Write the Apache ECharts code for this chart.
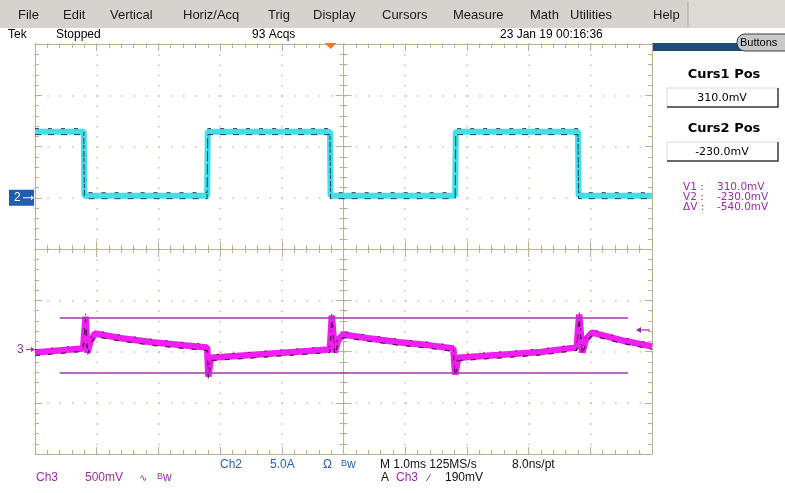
<!DOCTYPE html>
<html>
<head>
<meta charset="utf-8">
<script src="https://cdn.jsdelivr.net/npm/echarts@6/dist/echarts.min.js"></script>
<style>
html,body{margin:0;padding:0;background:#fff;}
#scope{width:785px;height:493px;}
</style>
</head>
<body>
<div id="scope"></div>
<script>
// ---- Acquired waveforms (time in ms) ----
// Channel 2: current probe, amps
const ch2Time = [0, 0.79, 0.80, 2.79, 2.80, 4.78, 4.79, 6.81, 6.82, 8.80, 8.81, 10];
const ch2Amps = [6.45, 6.45, 0.2, 0.2, 6.45, 6.45, 0.2, 0.2, 6.45, 6.45, 0.2, 0.2];

// Channel 3: voltage, millivolts
const ch3Time = [0, 0.78, 0.82, 0.85, 0.90, 0.97, 1.40, 1.90, 2.40, 2.79, 2.81, 2.85, 3.50, 4.20,
                 4.78, 4.81, 4.86, 4.91, 4.99, 5.40, 5.90, 6.40, 6.78, 6.81, 6.86, 7.50, 8.20,
                 8.78, 8.82, 8.87, 8.93, 9.03, 9.50, 10];
const ch3MilliVolts = [-30, 10, 320, -30, 80, 155, 110, 70, 40, 20, -265, -80, -55, -25,
                       0, 330, -30, 90, 145, 110, 70, 40, 10, -245, -80, -55, -25,
                       20, 340, -30, 100, 165, 90, 30];

// Cursors (mV) and trigger settings
const cursorLevels = [310, -230];
const cursorDelta = cursorLevels[1] - cursorLevels[0];
const triggerTime = 4.79;
const triggerLevel = 190;

// Screen text
const menuItems = ['File', 'Edit', 'Vertical', 'Horiz/Acq', 'Trig', 'Display', 'Cursors', 'Measure', 'Math', 'Utilities', 'Help'];
const menuX = [18, 63, 110, 183, 268, 313, 382, 453, 530, 570, 653];
const statusItems = ['Tek', 'Stopped', '93 Acqs', '23 Jan 19 00:16:36'];
const statusX = [8, 56, 252, 500];

const GRAT = '#bbb292';
const DOTS = '#c9c1a4';
const CYAN = '#3fe0ea';
const MAGENTA = '#f01ef0';
const PURPLE = '#9a2ca6';
const BLUE = '#2a62aa';

const box = {left: 35, top: 44, width: 617, height: 410};

function pairs(t, v) { return t.map((x, i) => [x, v[i]]); }
function fmt(v) { return v.toFixed(1) + 'mV'; }

function gratAxis(extra) {
  return Object.assign({
    type: 'value', interval: 1,
    axisLabel: {show: false},
    axisLine: {show: true, onZero: false, lineStyle: {color: GRAT, width: 1}},
    axisTick: {show: true, inside: true, length: 7, lineStyle: {color: GRAT}},
    minorTick: {show: true, splitNumber: 5, length: 4, lineStyle: {color: GRAT}},
    splitLine: {show: false}
  }, extra);
}
function centerAxis(extra, inside) {
  return Object.assign({
    type: 'value', interval: 1,
    axisLabel: {show: false},
    axisLine: {show: true, onZero: true, onZeroAxisIndex: 0, lineStyle: {color: GRAT, width: 1}},
    axisTick: {show: true, inside: inside, length: 8, lineStyle: {color: GRAT}},
    minorTick: {show: true, splitNumber: 5, length: 4, lineStyle: {color: GRAT}},
    splitLine: {show: false}
  }, extra);
}
function timeAxis(gi) { return {type: 'value', gridIndex: gi, min: 0, max: 10, show: false}; }
function ch2Axis(gi) { return {type: 'value', gridIndex: gi, min: -25, max: 15, show: false}; }
function ch3Axis(gi) { return {type: 'value', gridIndex: gi, min: -1020, max: 2980, show: false}; }

// main grid plus two slightly shifted copies for the persistence specks
const grids = [
  Object.assign({}, box),
  Object.assign({}, box, {top: box.top - 3}),
  Object.assign({}, box, {top: box.top + 3})
];

const xAxes = [
  gratAxis({min: -5, max: 5, position: 'bottom',
    splitLine: {show: true, lineStyle: {color: DOTS, width: 1.5, type: [1.5, 8.75]}}}),
  gratAxis({min: -5, max: 5, position: 'top'}),
  centerAxis({min: -5, max: 5}, true),
  centerAxis({min: -5, max: 5}, false),
  timeAxis(0), timeAxis(1), timeAxis(2)
];
const yAxes = [
  gratAxis({min: -4, max: 4, position: 'left',
    splitLine: {show: true, lineStyle: {color: DOTS, width: 1.5, type: [1.5, 10.84]}}}),
  gratAxis({min: -4, max: 4, position: 'right'}),
  centerAxis({min: -4, max: 4}, true),
  centerAxis({min: -4, max: 4}, false),
  ch2Axis(0), ch3Axis(0),
  ch2Axis(1), ch3Axis(1),
  ch2Axis(2), ch3Axis(2)
];

function trace(data, xi, yi, color, width, dash, z, opacity) {
  return {
    type: 'line', data: data, xAxisIndex: xi, yAxisIndex: yi,
    showSymbol: false, symbol: 'none', silent: true, z: z,
    lineStyle: {color: color, width: width, type: dash || 'solid', join: 'bevel', cap: 'butt', opacity: opacity == null ? 1 : opacity}
  };
}

const ch2Data = pairs(ch2Time, ch2Amps);
const ch3Data = pairs(ch3Time, ch3MilliVolts);

const ch3Main = trace(ch3Data, 4, 5, MAGENTA, 6.5, null, 3);
ch3Main.markLine = {
  silent: true, symbol: ['none', 'none'], label: {show: false},
  lineStyle: {color: '#a03aa8', width: 1.5, type: 'solid'},
  data: cursorLevels.map(v => [{coord: [0.4, v]}, {coord: [9.61, v]}])
};

const series = [
  trace(ch2Data, 4, 4, CYAN, 6, null, 3),
  trace(ch2Data, 5, 6, '#1a2228', 1, [4, 9], 4, 0.85),
  trace(ch2Data, 6, 8, '#1a2228', 1, [6, 7], 4, 0.85),
  ch3Main,
  trace(ch3Data, 5, 7, '#2a1028', 1, [2, 14], 4, 0.8),
  trace(ch3Data, 6, 9, '#2a1028', 1.2, [5, 8], 4, 0.85)
];

const chart = echarts.init(document.getElementById('scope'), null, {renderer: 'canvas'});
chart.setOption({
  animation: false,
  backgroundColor: '#ffffff',
  grid: grids,
  xAxis: xAxes,
  yAxis: yAxes,
  series: series
});

// ---- Screen furniture positioned from the axes ----
const ch2Zero = chart.convertToPixel({yAxisIndex: 4}, 0);
const ch3Zero = chart.convertToPixel({yAxisIndex: 5}, 0);
const trigX = chart.convertToPixel({xAxisIndex: 4}, triggerTime);
const trigY = chart.convertToPixel({yAxisIndex: 5}, triggerLevel);

const sans = 'Liberation Sans, Arial, sans-serif';
const wide = 'DejaVu Sans, Verdana, sans-serif';

function txt(x, y, text, opt) {
  return {type: 'text', x: x, y: y, silent: true, style: Object.assign({
    text: text, fill: '#000', font: '12px ' + sans, textVerticalAlign: 'middle', textAlign: 'left'
  }, opt || {})};
}

const g = [];
// menu bar
g.push({type: 'rect', shape: {x: 0, y: 0, width: 785, height: 28}, style: {fill: '#d6d3ce'}, silent: true});
g.push({type: 'rect', shape: {x: 688, y: 0, width: 97, height: 28}, style: {fill: '#dddad5'}, silent: true});
g.push({type: 'line', shape: {x1: 688, y1: 2, x2: 688, y2: 27}, style: {stroke: '#a8a5a0', lineWidth: 1}, silent: true});
menuItems.forEach((m, i) => g.push(txt(menuX[i], 15, m, {font: '13px ' + sans, fill: '#1a1a1a'})));
// status line
statusItems.forEach((s, i) => g.push(txt(statusX[i], 35, s, {font: '12px ' + sans})));
// trigger position marker
g.push({type: 'polygon', shape: {points: [[trigX - 6, 43], [trigX + 6, 43], [trigX, 49]]}, style: {fill: '#f07a22'}, silent: true, z: 10});

// right panel
g.push({type: 'rect', shape: {x: 652, y: 43, width: 133, height: 8}, style: {fill: '#1d4c7a'}, silent: true});
g.push({type: 'rect', shape: {x: 737, y: 34, width: 56, height: 17, r: 8}, style: {fill: '#c9c9c9', stroke: '#3a3a3a', lineWidth: 1}, silent: true});
g.push(txt(740, 43, 'Buttons', {font: '11px ' + sans}));

function cursorBox(y, title, value) {
  g.push(txt(724, y, title, {font: 'bold 13px ' + wide, textAlign: 'center'}));
  const top = y + 13;
  g.push({type: 'rect', shape: {x: 667, y: top, width: 111, height: 19}, style: {fill: '#fff', stroke: '#d8d8d8', lineWidth: 1}, silent: true});
  g.push({type: 'polyline', shape: {points: [[667, top + 19], [778, top + 19], [778, top]]}, style: {stroke: '#3c3c3c', lineWidth: 1.5, fill: null}, silent: true});
  g.push(txt(722, top + 10, value, {font: '11px ' + wide, textAlign: 'center'}));
}
cursorBox(75, 'Curs1 Pos', fmt(cursorLevels[0]));
cursorBox(129, 'Curs2 Pos', fmt(cursorLevels[1]));

const readout = [['V1 :', cursorLevels[0]], ['V2 :', cursorLevels[1]], ['\u0394V :', cursorDelta]];
readout.forEach((r, i) => {
  const y = 187 + i * 10;
  g.push(txt(683, y, r[0], {font: '10.5px ' + wide, fill: PURPLE}));
  g.push(txt(717, y, fmt(r[1]), {font: '10.5px ' + wide, fill: PURPLE}));
});

// channel ground markers
g.push({type: 'rect', shape: {x: 9, y: ch2Zero - 8, width: 25, height: 16}, style: {fill: '#1f5db0'}, silent: true});
g.push(txt(14, ch2Zero, '2', {font: '12px ' + sans, fill: '#fff'}));
g.push({type: 'line', shape: {x1: 23, y1: ch2Zero, x2: 31, y2: ch2Zero}, style: {stroke: '#fff', lineWidth: 1}, silent: true});
g.push({type: 'polygon', shape: {points: [[31, ch2Zero - 2.5], [34, ch2Zero], [31, ch2Zero + 2.5]]}, style: {fill: '#fff'}, silent: true});

g.push(txt(17, ch3Zero, '3', {font: '12px ' + sans, fill: PURPLE}));
g.push({type: 'line', shape: {x1: 26, y1: ch3Zero, x2: 32, y2: ch3Zero}, style: {stroke: PURPLE, lineWidth: 1}, silent: true});
g.push({type: 'polygon', shape: {points: [[31, ch3Zero - 2.5], [35, ch3Zero], [31, ch3Zero + 2.5]]}, style: {fill: PURPLE}, silent: true});

// trigger level marker on the right edge
g.push({type: 'line', shape: {x1: 640, y1: trigY, x2: 650, y2: trigY}, style: {stroke: PURPLE, lineWidth: 1.2}, silent: true, z: 10});
g.push({type: 'polygon', shape: {points: [[641, trigY - 3], [636, trigY], [641, trigY + 3]]}, style: {fill: PURPLE}, silent: true, z: 10});

// bottom settings readout
g.push(txt(220, 465, 'Ch2', {fill: BLUE}));
g.push(txt(270, 465, '5.0A', {fill: BLUE}));
g.push(txt(323, 465, '\u03A9', {fill: BLUE}));
g.push(txt(341, 465, '{s|B}w', {fill: BLUE, rich: {s: {fontSize: 9, fill: BLUE, font: '9px ' + sans, verticalAlign: 'top'}}}));
g.push(txt(380, 465, 'M 1.0ms 125MS/s', {fill: '#111'}));
g.push(txt(512, 465, '8.0ns/pt', {fill: '#111'}));

g.push(txt(36, 478, 'Ch3', {fill: PURPLE}));
g.push(txt(85, 478, '500mV', {fill: PURPLE}));
g.push(txt(139, 478, '\u223F', {fill: PURPLE, font: '10px ' + wide}));
g.push(txt(157, 478, '{s|B}w', {fill: PURPLE, rich: {s: {fontSize: 9, fill: PURPLE, font: '9px ' + sans, verticalAlign: 'top'}}}));
g.push(txt(381, 478, 'A', {fill: '#111'}));
g.push(txt(396, 478, 'Ch3', {fill: PURPLE}));
g.push(txt(428, 478, '\u2215', {fill: '#111', font: '10px ' + sans}));
g.push(txt(445, 478, triggerLevel + 'mV', {fill: '#111'}));

chart.setOption({graphic: {elements: g}});
</script>
</body>
</html>
